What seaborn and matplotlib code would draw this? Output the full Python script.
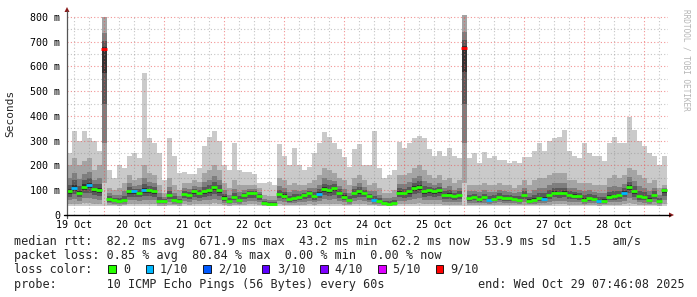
import numpy as np
import pandas as pd
import matplotlib
matplotlib.use("Agg")
import matplotlib.pyplot as plt
import seaborn as sns
from matplotlib.patches import Rectangle, Polygon
from matplotlib.lines import Line2D

# ---------------- data ----------------
# 2-hour bins, hours counted from 19 Oct 00:00
bin_start_hours = np.arange(9, 249, 2)
bin_hours = 2

median_ms = [95, 110, 90, 115, 120, 105, 100, 670, 65, 60,
             55, 60, 95, 95, 90, 100, 100, 95, 55, 55,
             80, 60, 55, 85, 80, 95, 88, 95, 100, 112,
             100, 70, 55, 72, 62, 80, 88, 88, 75, 48,
             46, 46, 85, 78, 65, 68, 74, 80, 88, 75,
             85, 105, 100, 108, 88, 74, 61, 88, 95, 90,
             75, 60, 55, 47, 46, 47, 90, 88, 95, 110,
             115, 95, 100, 95, 100, 82, 82, 75, 80, 673,
             70, 72, 65, 72, 62, 66, 74, 70, 68, 66,
             62, 80, 58, 62, 68, 66, 80, 90, 88, 90,
             80, 78, 75, 62, 68, 66, 55, 58, 74, 75,
             80, 90, 115, 95, 75, 72, 62, 80, 55, 100]

smoke_hi_ms = [200, 230, 200, 220, 230, 180, 200, 800, 110, 100,
               110, 130, 160, 140, 150, 200, 170, 160, 120, 90,
               150, 120, 100, 130, 130, 140, 135, 170, 180, 200,
               180, 130, 110, 140, 120, 120, 120, 120, 110, 80,
               75, 75, 150, 140, 120, 130, 120, 120, 130, 140,
               160, 190, 180, 170, 150, 140, 120, 150, 160, 140,
               120, 130, 110, 90, 90, 100, 160, 160, 170, 190,
               200, 180, 160, 150, 160, 140, 150, 130, 140, 808,
               120, 120, 120, 130, 120, 120, 130, 120, 120, 110,
               120, 140, 120, 140, 150, 150, 160, 170, 170, 170,
               140, 140, 130, 130, 130, 120, 120, 120, 150, 160,
               150, 160, 190, 180, 160, 150, 130, 140, 110, 120]

smoke_max_ms = [250, 340, 300, 340, 310, 300, 260, 800, 180, 150,
                200, 190, 240, 250, 230, 575, 310, 290, 250, 140,
                310, 240, 170, 175, 165, 165, 190, 280, 315, 340,
                300, 200, 180, 290, 180, 175, 175, 165, 130, 130,
                135, 120, 285, 240, 200, 270, 200, 180, 195, 250,
                290, 335, 315, 290, 265, 236, 195, 265, 285, 200,
                200, 340, 190, 150, 160, 180, 295, 270, 290, 310,
                320, 310, 265, 240, 260, 240, 270, 240, 230, 808,
                230, 250, 210, 256, 230, 240, 222, 222, 210, 220,
                210, 236, 236, 260, 290, 260, 300, 310, 316, 343,
                260, 240, 230, 290, 250, 240, 240, 220, 290, 316,
                290, 290, 395, 343, 300, 280, 250, 240, 200, 240]

loss_tenths = [0, 1, 0, 0, 1, 0, 0, 9, 0, 0,
               0, 0, 0, 1, 0, 1, 0, 0, 0, 0,
               0, 0, 0, 0, 0, 0, 0, 0, 0, 0,
               0, 0, 0, 0, 0, 0, 0, 0, 0, 0,
               0, 0, 0, 0, 0, 0, 0, 0, 0, 0,
               1, 0, 0, 0, 0, 0, 0, 0, 0, 0,
               0, 1, 0, 0, 0, 0, 0, 0, 0, 0,
               0, 0, 0, 0, 0, 0, 0, 0, 0, 9,
               0, 0, 0, 0, 1, 0, 0, 0, 0, 0,
               0, 0, 0, 0, 0, 1, 0, 0, 0, 0,
               0, 0, 0, 0, 0, 0, 1, 0, 0, 0,
               0, 1, 0, 0, 0, 0, 0, 0, 0, 0]

smoke_min_ms = 35

day_labels = ["19 Oct", "20 Oct", "21 Oct", "22 Oct", "23 Oct",
              "24 Oct", "25 Oct", "26 Oct", "27 Oct", "28 Oct"]
y_ticks = [0, 100, 200, 300, 400, 500, 600, 700, 800]
y_tick_labels = ["0", "100 m", "200 m", "300 m", "400 m",
                 "500 m", "600 m", "700 m", "800 m"]

loss_levels = ["0", "1/10", "2/10", "3/10", "4/10", "5/10", "9/10"]
loss_values = [0, 1, 2, 3, 4, 5, 9]
loss_colors = ["#26ff00", "#00b8ff", "#0059ff", "#5e00ff", "#7e00ff", "#dd00ff", "#ff0000"]

line_rtt = "median rtt:  82.2 ms avg  671.9 ms max  43.2 ms min  62.2 ms now  53.9 ms sd  1.5   am/s"
line_loss = "packet loss: 0.85 % avg  80.84 % max  0.00 % min  0.00 % now"
line_probe = "probe:       10 ICMP Echo Pings (56 Bytes) every 60s"
line_end = "end: Wed Oct 29 07:46:08 2025"

# ---------------- figure ----------------
sns.set_theme(style="white")
plt.rcParams["font.family"] = ["DejaVu Sans Mono", "DejaVu Sans"]

W, H = 697, 297
fig = plt.figure(figsize=(W / 100, H / 100), dpi=100)
fig.patch.set_facecolor("white")

def fx(x):
    return x / W

def fy(y):
    return 1 - y / H

L, R, T, B = 67, 668, 15, 215
ax = fig.add_axes([fx(L), fy(B), (R - L) / W, (B - T) / H])
ax.set_facecolor("white")
x0 = (L - 44) / 2.5
x1 = (R - 44) / 2.5
ax.set_xlim(x0, x1)
ax.set_ylim(0, 808)

df = pd.DataFrame({
    "start": bin_start_hours,
    "median": median_ms,
    "hi": smoke_hi_ms,
    "top": smoke_max_ms,
    "loss": loss_tenths,
})
edges = np.append(df["start"].values, df["start"].values[-1] + bin_hours)
med = df["median"].values.astype(float)
hi = df["hi"].values.astype(float)
top = df["top"].values.astype(float)
lo = np.full_like(med, smoke_min_ms)

# smoke bands: outer (lightest) to inner (darkest)
bands = [
    ("#cacaca", 0.0, 1.0, top),
    ("#a4a4a4", 0.15, 1.0, hi),
    ("#7e7e7e", 0.40, 0.50, None),
    ("#585858", 0.65, 0.25, None),
    ("#323232", 0.85, 0.08, None),
]
for color, lf, uf, upper in bands:
    lower = lo + lf * (med - lo)
    up = upper if upper is not None else med + uf * (hi - med)
    ax.stairs(up, edges, baseline=lower, fill=True, color=color, lw=0, zorder=2)

# grid on top of the smoke
minor_c = (0.55, 0.55, 0.55, 0.5)
major_c = (0.92, 0.3, 0.3, 0.6)
dots = (0, (1, 2))
for v in range(50, 800, 100):
    ax.axhline(v, color=minor_c, lw=0.8, ls=dots, zorder=3)
for v in y_ticks[1:]:
    ax.axhline(v, color=major_c, lw=0.8, ls=dots, zorder=3)
for h in range(6, 250, 6):
    if h % 24 == 0:
        ax.axvline(h, color=major_c, lw=0.8, ls=dots, zorder=3)
    else:
        ax.axvline(h, color=minor_c, lw=0.8, ls=dots, zorder=3)

# median rtt coloured by loss
df["center"] = df["start"] + bin_hours / 2
df["loss_label"] = df["loss"].map(lambda v: loss_levels[loss_values.index(v)])
palette = dict(zip(loss_levels, loss_colors))
sns.scatterplot(data=df, x="center", y="median", hue="loss_label", palette=palette,
                marker="_", s=14, linewidth=2.0, legend=False, ax=ax, zorder=4)

# axes styling
for s in ax.spines.values():
    s.set_visible(False)
ax.set_xticks([12 + 24 * i for i in range(len(day_labels))])
ax.set_xticklabels(day_labels, fontsize=7.2)
ax.set_yticks(y_ticks)
ax.set_yticklabels(y_tick_labels, fontsize=7.2)
ax.tick_params(axis="x", length=0, pad=3.5, colors="black")
ax.tick_params(axis="y", length=0, pad=5, colors="black")
ax.set_xlabel("")
ax.set_ylabel("")

# axis lines and arrows (pixel geometry)
fig.add_artist(Line2D([fx(L), fx(L)], [fy(B + 3), fy(11)], color="#555555", lw=0.9))
fig.add_artist(Line2D([fx(L - 3), fx(670)], [fy(B), fy(B)], color="black", lw=1.0))
fig.add_artist(Polygon([[fx(L - 2.5), fy(12)], [fx(L + 2.5), fy(12)], [fx(L), fy(7)]],
                       closed=True, color="#8b1a1a", lw=0))
fig.add_artist(Polygon([[fx(669), fy(B - 2.5)], [fx(669), fy(B + 2.5)], [fx(674), fy(B)]],
                       closed=True, color="#8b1a1a", lw=0))

# labels
fig.text(fx(10.5), fy(113.5), "Seconds", rotation=90, ha="center", va="center", fontsize=8)
fig.text(fx(686), fy(60), "RRDTOOL / TOBI OETIKER", rotation=270, ha="center", va="center",
         fontsize=5.6, color="#b4b4b4")

fs = 8.5
fig.text(fx(14.5), fy(245.3), line_rtt, fontsize=fs, va="baseline")
fig.text(fx(14.5), fy(259.3), line_loss, fontsize=fs, va="baseline")
fig.text(fx(14.5), fy(272.7), "loss color:", fontsize=fs, va="baseline")
fig.text(fx(14.5), fy(287.7), line_probe, fontsize=fs, va="baseline")
fig.text(fx(478.3), fy(287.7), line_end, fontsize=fs, va="baseline")

box_x = [108.3, 145.7, 203.3, 261.7, 320.0, 378.3, 435.7]
text_x = [123.3, 160.0, 218.3, 276.7, 334.5, 391.7, 450.0]
for bx, tx, lab, col in zip(box_x, text_x, loss_levels, loss_colors):
    fig.add_artist(Rectangle((fx(bx), fy(272.5)), 7.5 / W, 8 / H, facecolor=col,
                             edgecolor="black", lw=0.6))
    fig.text(fx(tx), fy(272.7), lab, fontsize=fs, va="baseline")

fig.savefig("out.png", dpi=100, facecolor="white")
